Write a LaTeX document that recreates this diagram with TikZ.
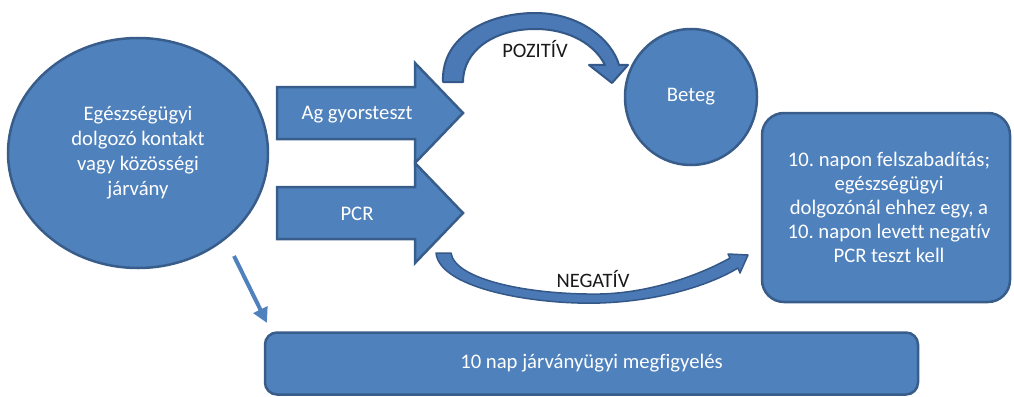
\documentclass[tikz,border=0pt]{standalone}
\usepackage{fontspec}
\setmainfont{Carlito}[Ligatures=NoCommon]
\usetikzlibrary{shapes.geometric,arrows.meta}
\definecolor{fillb}{HTML}{4F81BD}
\definecolor{edgeb}{HTML}{385D8A}
\definecolor{curvefill}{HTML}{4A79B6}
\definecolor{curveedge}{HTML}{345887}
\definecolor{lbl}{HTML}{1A1A1A}
\frenchspacing
\begin{document}
\begin{tikzpicture}[x=1pt,y=-1pt,
  shapebox/.style={fill=fillb,draw=edgeb,line width=2.5pt},
  wtext/.style={text=white,font=\fontsize{20.7}{25}\selectfont,align=center},
  blktext/.style={text=lbl,font=\fontsize{20.5}{25}\selectfont},
  bentarrow/.style={fill=curvefill,draw=curveedge,line width=2pt,line join=round},
  pointer/.style={draw=fillb,line width=4pt,-{Triangle[length=15pt,width=15pt]}}]
\useasboundingbox (0,0) rectangle (1014,396);

% source ellipse
\node[ellipse,shapebox,minimum width=260,minimum height=230,wtext] (src) at (138,153)
  {Egészségügyi\\dolgozó kontakt\\vagy közösségi\\járvány};

% block arrows
\draw[shapebox,line join=miter] (277,87) -- (415,87) -- (415,63) -- (463,113) -- (415,163) -- (415,139) -- (277,139) -- cycle;
\node[wtext] (ag) at (357,115) {Ag gyorsteszt};
\draw[shapebox,line join=miter] (277,187) -- (415,187) -- (415,163) -- (463,213) -- (415,263) -- (415,239) -- (277,239) -- cycle;
\node[wtext] (pcr) at (357,214) {PCR};

% Beteg
\node[ellipse,shapebox,minimum width=132,minimum height=136,wtext] (beteg) at (691,97) {Beteg};

% release box
\node[rectangle,rounded corners=22pt,shapebox,minimum width=248,minimum height=189,wtext,
  font=\fontsize{20.7}{24}\selectfont] (release) at (886,207.5)
  {\hspace*{6pt}10. napon felszabadítás;\\\hspace*{6pt}egészségügyi\\\hspace*{6pt}dolgozónál ehhez egy, a\\\hspace*{6pt}10. napon levett negatív\\\hspace*{6pt}PCR teszt kell};

% observation box
\node[rectangle,rounded corners=12pt,shapebox,minimum width=653,minimum height=62,wtext] (obs) at (591.5,363.5)
  {10 nap járványügyi megfigyelés};

% pointer from source to observation
\coordinate (p1) at (234,256);
\coordinate (p2) at (267,323);
\draw[pointer] (p1) -- (p2);

% POZITIV curved arrow
\draw[bentarrow] (443,82) .. controls (441,35) and (490,13) .. (535,13)
  .. controls (580,13) and (612,40) .. (619,65) -- (628,65) -- (612,83) -- (589,65) -- (605,65)
  .. controls (595,45) and (570,29) .. (535,29)
  .. controls (495,29) and (463,50) .. (463,82) -- cycle;
\node[blktext] (pos) at (535,49) {POZITÍV};

% NEGATIV curved arrow
\draw[bentarrow,line width=1.5pt] (436,253) .. controls (440,290) and (540,305) .. (600,303)
  .. controls (660,301) and (710,285) .. (738,268) -- (740,273) -- (748,255) -- (728,254) -- (730,258)
  .. controls (700,275) and (650,293) .. (600,294)
  .. controls (530,295) and (455,280) .. (451,253) -- cycle;
\node[blktext] (neg) at (593,279) {NEGATÍV};
\end{tikzpicture}
\end{document}
